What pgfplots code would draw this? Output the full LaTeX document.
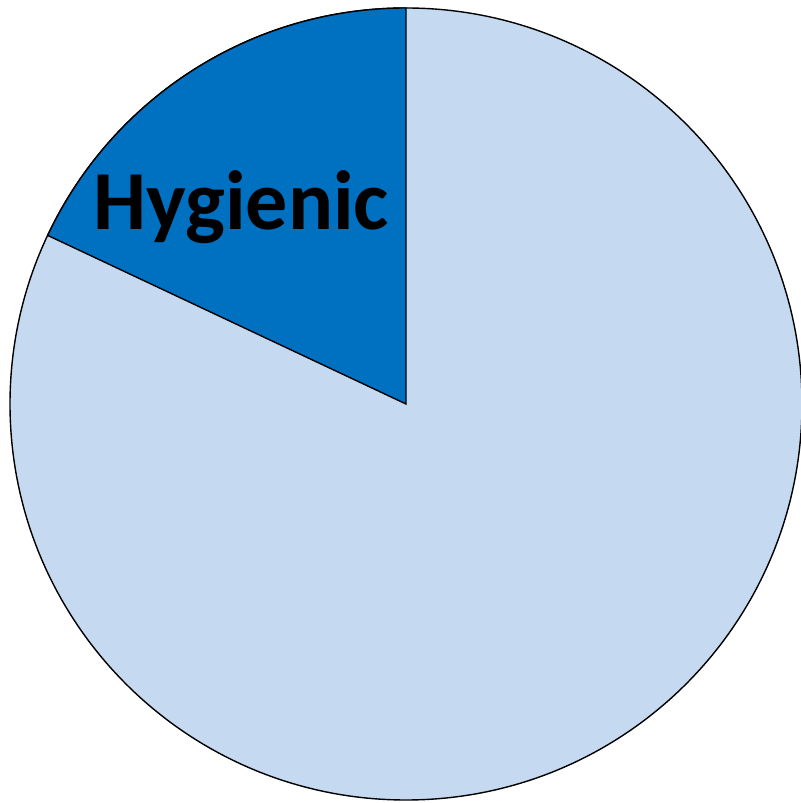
\documentclass[border=0pt]{standalone}
\usepackage{pgfplots}
\pgfplotsset{compat=1.18}
\usepackage{pgfplotstable}
\usepackage{fontspec}
\setmainfont{Carlito}

\definecolor{hygblue}{HTML}{0070C0}
\definecolor{restblue}{HTML}{C5D9F0}

\pgfplotstableread{
label    value
Hygienic 18
Other    82
}\piedata

\begin{document}
\begin{tikzpicture}
\pgfplotstablegetelem{0}{value}\of\piedata
\pgfmathsetmacro\hygend{90+3.6*\pgfplotsretval}
\begin{axis}[
    hide axis,
    scale only axis,
    width=400.5pt, height=401.5pt,
    xmin=0, xmax=801,
    ymin=0, ymax=803,
    clip=true,
]
% whole pie (light part), then the Hygienic slice on top
\filldraw[fill=restblue, draw=black, line width=0.7pt]
    (axis cs:406,399) circle[radius=198pt];
\filldraw[fill=hygblue, draw=black, line width=0.7pt, line join=miter]
    (axis cs:406,399) -- ++(90:198pt)
    arc[start angle=90, end angle=\hygend, radius=198pt] -- cycle;
\node[font=\fontsize{42}{44}\selectfont\bfseries, anchor=center]
    at (axis cs:241,596) {Hygienic};
\end{axis}
\pgfresetboundingbox
\path (current axis.south west) rectangle (current axis.north east);
\end{tikzpicture}
\end{document}
